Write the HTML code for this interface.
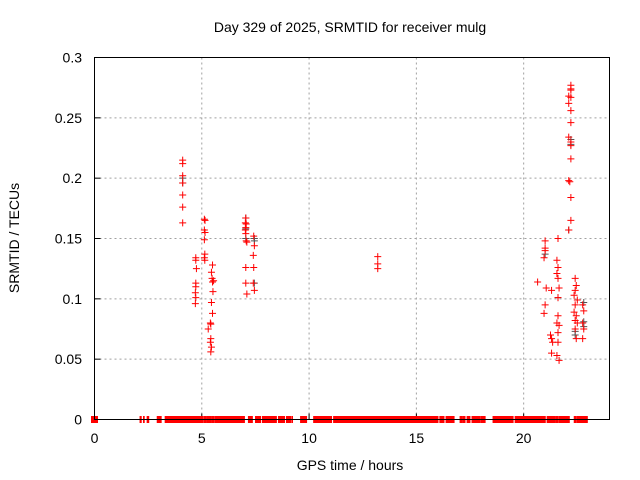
<!DOCTYPE html>
<html><head><meta charset="utf-8"><style>
body{margin:0;background:#fff}
svg{display:block;font-family:"Liberation Sans",sans-serif}
</style></head><body>
<svg id="chart" width="640" height="480">
<text x="350" y="32" font-size="14" text-anchor="middle">Day 329 of 2025, SRMTID for receiver mulg</text>
<text x="350" y="470" font-size="14" text-anchor="middle">GPS time / hours</text>
<text transform="translate(19,238) rotate(-90)" font-size="14" text-anchor="middle">SRMTID / TECUs</text>
<g id="grid"></g><g id="ticks"></g><g id="marks"></g>
<rect x="94.5" y="57.5" width="515" height="362" fill="none" stroke="#000"/>
</svg>
<script>
const xTicks=[0,5,10,15,20];
const yTicks=[0,0.05,0.1,0.15,0.2,0.25,0.3];
const yTickLabels=["0","0.05","0.1","0.15","0.2","0.25","0.3"];
const zeroRuns=[[0,0],[2.10,2.20],[2.26,2.34],[2.43,2.55],[2.90,3.13],[3.27,5.09],[5.14,5.19],[5.23,5.47],[5.51,5.56],[5.61,7.01],[7.15,7.38],[7.48,7.76],[7.80,8.50],[8.55,8.88],[8.97,9.02],[9.07,9.11],[9.17,9.25],[9.58,9.77],[9.81,9.86],[10.19,11.07],[11.12,16.03],[16.07,16.31],[16.36,16.78],[17.06,17.10],[17.15,17.29],[17.34,17.52],[17.57,17.76],[17.80,17.85],[17.90,17.94],[18.04,18.08],[18.13,18.18],[18.55,19.53],[19.58,21.03],[21.07,21.50],[21.54,21.59],[21.64,22.15],[22.38,22.43],[22.48,22.99]];
const redTimes=[4.11,4.11,4.11,4.11,4.11,4.11,4.11,
4.72,4.72,4.75,4.72,4.72,4.70,4.72,4.70,
5.12,5.15,5.12,5.15,5.12,5.14,5.12,5.14,
5.50,5.45,5.48,5.55,5.50,5.52,5.45,5.50,5.40,5.42,5.30,5.42,5.40,5.45,5.42,
7.05,7.03,7.07,7.05,7.03,7.05,7.07,7.10,7.05,7.05,7.10,
7.42,7.45,7.40,7.42,7.40,7.45,
13.2,13.2,13.2,
22.2,22.2,22.2,22.1,22.2,22.1,22.2,22.2,22.1,22.2,22.2,22.2,22.1,22.15,22.2,22.2,22.1,
21.0,21.0,21.0,20.95,21.05,21.0,20.95,20.65,
21.6,21.55,21.6,21.55,21.6,21.65,21.6,21.6,21.55,21.65,21.6,21.6,21.55,21.65,
21.3,21.25,21.3,21.35,21.3,
22.4,22.45,22.4,22.35,22.5,22.4,22.35,22.45,22.4,22.5,22.4,22.45,
22.75,22.8,22.75,22.8,22.75];
const redValues=[0.215,0.212,0.202,0.196,0.186,0.176,0.163,
0.134,0.132,0.125,0.113,0.110,0.105,0.101,0.096,
0.166,0.165,0.157,0.155,0.149,0.137,0.134,0.132,
0.128,0.122,0.117,0.115,0.114,0.106,0.097,0.088,0.080,0.079,0.075,0.067,0.064,0.060,0.056,
0.167,0.163,0.162,0.159,0.157,0.154,0.148,0.147,0.126,0.113,0.104,
0.152,0.144,0.136,0.126,0.113,0.107,
0.135,0.129,0.125,
0.277,0.274,0.273,0.268,0.267,0.262,0.256,0.246,0.234,0.230,0.227,0.216,0.198,0.197,0.184,0.165,0.157,
0.148,0.142,0.140,0.134,0.109,0.095,0.088,0.114,
0.150,0.132,0.126,0.121,0.117,0.109,0.101,0.086,0.080,0.078,0.072,0.064,0.053,0.049,
0.107,0.070,0.067,0.064,0.055,
0.117,0.111,0.107,0.103,0.099,0.095,0.089,0.086,0.082,0.080,0.075,0.067,
0.095,0.090,0.080,0.075,0.067];
const greyTimes=[4.11,4.11,7.05,7.05,7.05,7.45,7.45,7.45,22.2,22.2,22.1,22.4,22.4,22.8,22.8,22.8,21.0,21.6];
const greyValues=[0.200,0.196,0.167,0.158,0.150,0.150,0.148,0.113,0.232,0.228,0.157,0.073,0.070,0.097,0.081,0.077,0.137,0.101];

const X0=94.5,X1=609.5,Y0=419.5,Y1=57.5,XMAX=24,YMAX=0.3;
const xs=v=>X0+(X1-X0)*v/XMAX;
const ys=v=>Y0-(Y0-Y1)*v/YMAX;
const NS="http://www.w3.org/2000/svg";
function mk(tag,attrs,parent){const e=document.createElementNS(NS,tag);for(const k in attrs)e.setAttribute(k,attrs[k]);parent.appendChild(e);return e;}
const grid=document.getElementById('grid'),ticks=document.getElementById('ticks'),marks=document.getElementById('marks');
xTicks.forEach(t=>{
  const x=xs(t);
  if(t>0){const g=mk('line',{x1:x,x2:x,y1:Y1,y2:Y0,stroke:'#a0a0a0','stroke-dasharray':'2,3'},grid);
  
  }
  const l=mk('line',{x1:x,x2:x,y1:Y0,y2:Y0-6,stroke:'#000'},ticks);
  
  
  const tx=mk('text',{x:x,y:443,'font-size':14,'text-anchor':'middle'},ticks);tx.textContent=t;
  
  
});
yTicks.forEach((t,i)=>{
  const y=ys(t);
  if(t>0&&t<YMAX){const g=mk('line',{x1:X0,x2:X1,y1:y,y2:y,stroke:'#a0a0a0','stroke-dasharray':'2,3'},grid);
  
  }
  const l=mk('line',{x1:X0,x2:X0+6,y1:y,y2:y,stroke:'#000'},ticks);
  
  
  const tx=mk('text',{x:82,y:y+5,'font-size':14,'text-anchor':'end'},ticks);tx.textContent=yTickLabels[i];
  
  
});
function plus(t,v,col,name){
  const x=xs(t),y=ys(v);
  const p=mk('path',{d:`M${x-3.5},${y}H${x+3.5}M${x},${y-3.5}V${y+3.5}`,stroke:col,'stroke-width':1,fill:'none'},marks);
  
  
}
greyTimes.forEach((t,i)=>plus(t,greyValues[i],'#555','grey-point'));
zeroRuns.forEach(r=>{
  let a=xs(r[0]),b=xs(r[1]);
  if(b-a<1.5){a-=1;b+=1;}
  if(r[0]===0){a=xs(0)-3.5;b=xs(0)+3.5;}
  const y=ys(0);
  const e=mk('rect',{x:a,y:y-3.5,width:b-a,height:7,fill:'#ff0000'},marks);
  
  
});
redTimes.forEach((t,i)=>plus(t,redValues[i],'#ff0000','srmtid-point'));
</script>
</body></html>
